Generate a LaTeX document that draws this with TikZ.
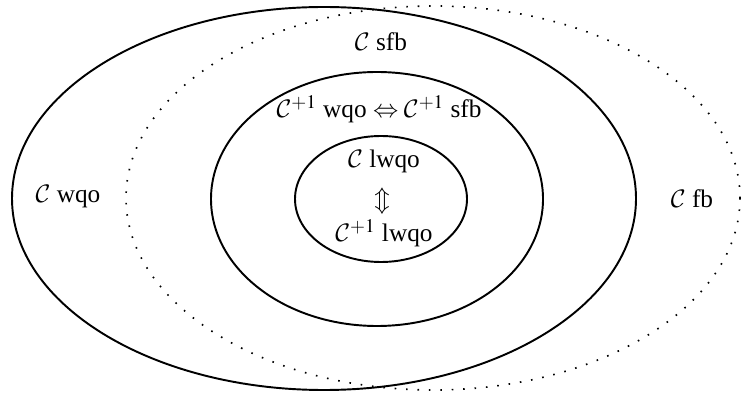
\documentclass[tikz,border=0pt]{standalone}
\usepackage{mathptmx}
\DeclareMathAlphabet{\mathcal}{OMS}{cmsy}{m}{n}
\usepackage{fontspec}
\setmainfont{Liberation Serif}
\usetikzlibrary{positioning}
\tikzset{setline/.style={line width=1.1pt},
	fbline/.style={line width=0.95pt,dash pattern=on 0.9pt off 5.6pt},
	lab/.style={inner sep=1pt}}

\begin{document}
\begin{tikzpicture}[x=0.02cm,y=-0.02cm,font=\fontsize{14.4}{17}\selectfont]
	\useasboundingbox (0,0) rectangle (742,394);
	\draw[setline](324,198.5)ellipse[x radius=312,y radius=191.5];
	\draw[fbline](433,198)ellipse[x radius=307,y radius=192];
	\draw[setline](377,199)ellipse[x radius=166,y radius=127];
	\draw[setline](381,199)ellipse[x radius=86,y radius=63];
	\node[lab](wqo) at (68,197){$\mathcal{C}$ wqo};
	\node[lab](fb) at (692,199){$\mathcal{C}$ fb};
	\node[lab](sfb) at (381,42){$\mathcal{C}$ sfb};
	\node[lab](wqosfb) at (379,109){$\mathcal{C}^{+1}$ wqo $\Leftrightarrow\mathcal{C}^{+1}$ sfb};
	\node[lab](lwqo) at (384,161){$\mathcal{C}$ lwqo};
	\node[lab](equiv) at (382,201){$\Updownarrow$};
	\node[lab](plwqo) at (384,233){$\mathcal{C}^{+1}$ lwqo};
\end{tikzpicture}
\end{document}
